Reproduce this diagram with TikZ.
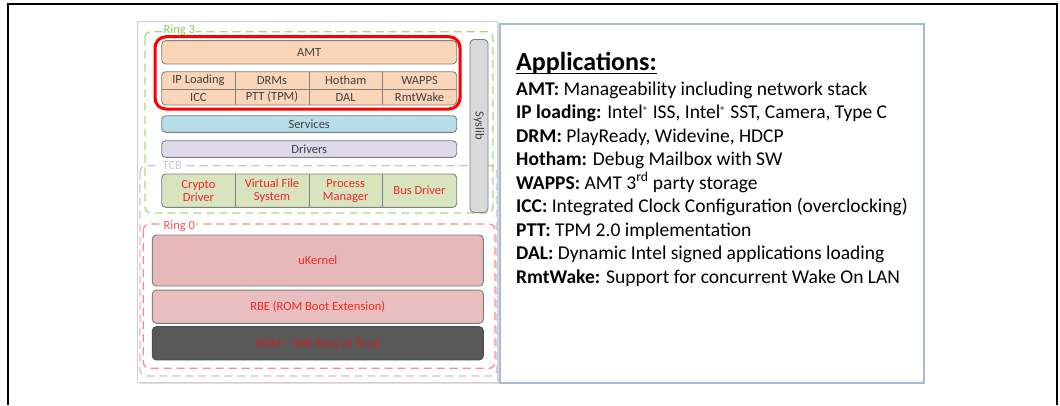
\documentclass[tikz,border=0pt]{standalone}
\usepackage{fontspec}
\setmainfont{Carlito}
\usetikzlibrary{calc}
\definecolor{peach}{HTML}{FBD5B8}
\definecolor{svc}{HTML}{B7DDE8}
\definecolor{drv}{HTML}{DEDAE9}
\definecolor{grn}{HTML}{D7E4BD}
\definecolor{kern}{HTML}{E6B9B8}
\definecolor{rom}{HTML}{595959}
\definecolor{sysl}{HTML}{D9D9D9}
\definecolor{bord}{HTML}{7F7F7F}
\definecolor{txt}{HTML}{404040}
\definecolor{redtxt}{HTML}{F02828}
\definecolor{ringg}{HTML}{A9D97F}
\definecolor{ringgt}{HTML}{8CCB5A}
\definecolor{ringr}{HTML}{FF8A8A}
\definecolor{tcbc}{HTML}{C9C2E0}
\definecolor{rbox}{HTML}{A9B8D6}
\tikzset{
  layer/.style={draw=bord, line width=0.9pt, rounded corners=4pt, inner sep=0pt},
  lbl/.style={inner sep=0pt, font=\fontsize{12.5}{13}\selectfont, text=txt, align=center},
  rlbl/.style={lbl, text=redtxt},
  ring/.style={dashed, dash pattern=on 8pt off 5pt, line width=1.3pt, rounded corners=6pt},
  ringlbl/.style={inner sep=1.5pt, fill=white, font=\fontsize{12.5}{13}\selectfont},
  appline/.style={anchor=base west, inner sep=0pt, font=\fontsize{19.5}{21}\selectfont},
}
\begin{document}
\begin{tikzpicture}[x=1pt,y=-1pt]
\useasboundingbox (0,0) rectangle (1060,405);
% outer frame
\draw[line width=2pt] (7.7,405) -- (7.7,4) -- (1056.7,4) -- (1056.7,405);
% left panel
\fill[black!12] (139,23) rectangle (499,384);
\draw[draw=black!18, fill=white, line width=0.8pt] (137,21) rectangle (497,382);
% TCB region
\draw[ring, draw=tcbc] (140,165.7) rectangle (497,376);
\node[ringlbl, text=tcbc, anchor=west] (tcb) at (161,165.7) {TCB};
% Ring 3
\draw[ring, draw=ringg] (145,31.7) rectangle (493,213);
\node[ringlbl, text=ringgt, anchor=west] (r3) at (162,30.5) {Ring 3};
% Ring 0
\draw[ring, draw=ringr] (143.3,224) rectangle (495,368.3);
\node[ringlbl, text=redtxt!80, anchor=west] (r0) at (162,226) {Ring 0};
% AMT
\node[layer, fill=peach, minimum width=295pt, minimum height=23.3pt] (amt) at (309.2,52.3) {};
\node[lbl] (amtt) at (amt) {AMT};
% app grid
\draw[layer, fill=peach] (161.7,71.7) rectangle (456.7,105);
\draw[draw=bord, line width=0.9pt] (161.7,89) -- (456.7,89);
\foreach \x in {235,309,382.3} \draw[draw=bord, line width=0.9pt] (\x,71.7) -- (\x,105);
\node[lbl] (ipl) at (198.4,80.4) {IP Loading};
\node[lbl] (drm) at (272,80.4) {DRMs};
\node[lbl] (hot) at (345.7,80.4) {Hotham};
\node[lbl] (wap) at (419.5,80.4) {WAPPS};
\node[lbl] (icc) at (198.4,97) {ICC};
\node[lbl] (ptt) at (272,97) {PTT (TPM)};
\node[lbl] (dal) at (345.7,97) {DAL};
\node[lbl] (rmt) at (419.5,97) {RmtWake};
% red highlight
\draw[red, line width=3pt, rounded corners=11pt] (155,36.7) rectangle (460,109);
% services, drivers
\node[layer, fill=svc, minimum width=295pt, minimum height=16.6pt] (svc) at (309.2,124) {};
\node[lbl] (svct) at (svc) {Services};
\node[layer, fill=drv, minimum width=295pt, minimum height=16.6pt] (drv) at (309.2,149) {};
\node[lbl] (drvt) at (drv) {Drivers};
% TCB components
\draw[layer, fill=grn] (161.7,174) rectangle (456.7,207.3);
\foreach \x in {235,309,382.3} \draw[draw=bord, line width=0.9pt] (\x,174) -- (\x,207.3);
\node[rlbl] (cry) at (198.4,190.7) {Crypto\\Driver};
\node[rlbl] (vfs) at (272,190.7) {Virtual File\\System};
\node[rlbl] (pm) at (345.7,190.7) {Process\\Manager};
\node[rlbl] (bus) at (419.5,190.7) {Bus Driver};
% syslib
\node[layer, fill=sysl, minimum width=18pt, minimum height=173pt] (sys) at (479,126) {};
\node[lbl, rotate=-90] (syst) at (sys) {Syslib};
% ring 0 layers
\node[layer, fill=kern, minimum width=331pt, minimum height=51pt] (uk) at (317.8,260.5) {};
\node[rlbl] (ukt) at (uk) {uKernel};
\node[layer, fill=kern!92!white, minimum width=331pt, minimum height=33.3pt] (rbe) at (317.8,306.7) {};
\node[rlbl] (rbet) at (rbe) {RBE (ROM Boot Extension)};
\node[layer, fill=rom, draw=black!70, minimum width=331pt, minimum height=33.3pt] (rom) at (317.8,343.3) {};
\node[rlbl, text=redtxt!85!black] (romt) at (rom) {ROM -- HW Root of Trust};
% right box
\draw[draw=rbox, line width=1.3pt] (500,24) rectangle (924,383);
\node[anchor=base west, inner sep=0pt, font=\fontsize{26}{28}\selectfont\bfseries] (head) at (516,70) {Applications:};
\draw[line width=1.2pt] (516,73.5) -- (head.base east |- 0,73.5);
\node[appline] (l1) at (516,95) {\textbf{AMT:} Manageability including network stack};
\node[appline] (l2) at (516,118.5) {\textbf{IP loading:} Intel{\fontsize{11}{11}\selectfont\raisebox{4pt}{®}} ISS, Intel{\fontsize{11}{11}\selectfont\raisebox{4pt}{®}} SST, Camera, Type C};
\node[appline] (l3) at (516,142) {\textbf{DRM:} PlayReady, Widevine, HDCP};
\node[appline] (l4) at (516,165.5) {\textbf{Hotham:} Debug Mailbox with SW};
\node[appline] (l5) at (516,189) {\textbf{WAPPS:} AMT 3\textsuperscript{rd} party storage};
\node[appline] (l6) at (516,212.5) {\textbf{ICC:} Integrated Clock Configuration (overclocking)};
\node[appline] (l7) at (516,236) {\textbf{PTT:} TPM 2.0 implementation};
\node[appline] (l8) at (516,259.5) {\textbf{DAL:} Dynamic Intel signed applications loading};
\node[appline] (l9) at (516,283) {\textbf{RmtWake:} Support for concurrent Wake On LAN};
\end{tikzpicture}
\end{document}
